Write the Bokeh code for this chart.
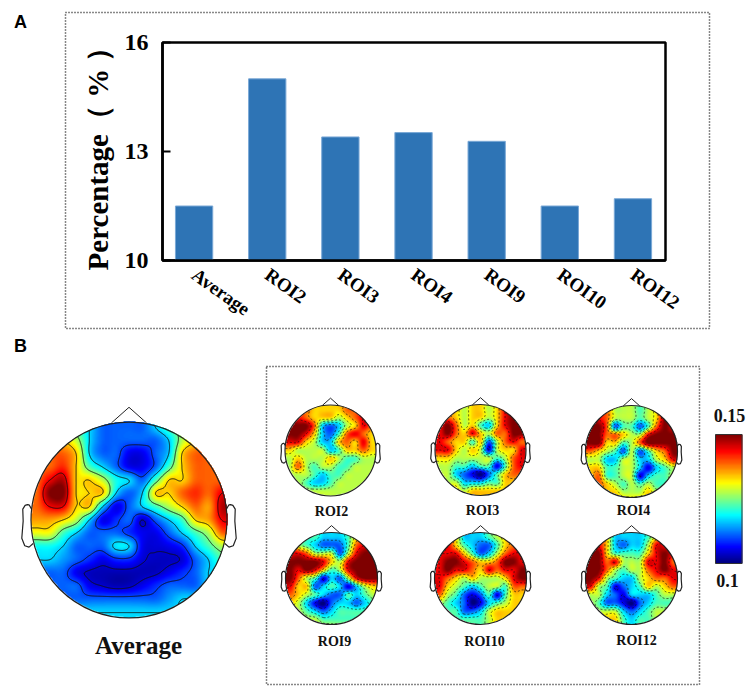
import numpy as np
from bokeh.embed import file_html
from bokeh.models import FixedTicker, LinearColorMapper, Range1d
from bokeh.plotting import figure
from bokeh.resources import INLINE
from bokeh.core.properties import value

# ---------- panel A data ----------
categories = ["Average", "ROI2", "ROI3", "ROI4", "ROI9", "ROI10", "ROI12"]
percentages = [11.5, 15.0, 13.4, 13.52, 13.28, 11.5, 11.7]
y_ticks = [10, 13, 16]

# ---------- panel B data: colour levels 0-9 (0.10 .. 0.15) read on a grid over the head ----------
avg_grid = [
    [4,4,4,4,4,3,2,2,2,2,3,4,5,6,7,7,7],
    [5,5,5,5,4,3,2,2,2,2,3,4,5,6,7,7,7],
    [6,6,6,6,5,3,2,2,2,2,2,3,5,6,7,7,7],
    [7,7,7,7,6,3,2,2,1,1,2,3,6,7,7,7,7],
    [7,7,7,7.5,6,4,3,2,1,1,2,4,6,7,7,7,7],
    [7,7,8,8.5,6,6,5,3.5,3,2,4,6,6,7,7,7,7],
    [7,7,9,9,6,6,6,3,2,3,6,6,7,7.5,7,8,8],
    [7,7,8,8,6,6,3,1,2,3,4,5,6,7,6.5,8.5,8.5],
    [6.5,6.5,6.5,6,5,3,1,1.5,2,0.7,2,3,4,6,6.5,8,8],
    [5.5,5.5,5.5,4,3,2,2,2,1.5,1,1,2,3,4,5,7,7],
    [3.5,3.5,3.5,3,2,2,2,3.2,3,1,0.8,1,1.5,3,4,5,5],
    [3,3,3,2.5,2,1.5,1,1.5,1.5,0.8,0.6,0.6,0.8,2,3,4,4],
    [2,2,2,2,1,0.6,0.5,0.5,0.5,0.5,0.6,1,1.5,2,3,3,3],
    [2,2,2,2,2,1,0.7,0.5,0.6,1,1.5,2,2,2,3,3,3],
    [2,2,2,2,2,2,2,2,2,2,2,2.5,3,3,3,3,3],
    [3,3,3,3,3,3,3,3,3,3,3,3,3,3,3,3,3],
    [3,3,3,3,3,3,3,3,3,3,3,3,3,3,3,3,3],
]
roi2_grid = [
    [6,6,8,7,6,6,6,6,6,7,8,7,6],
    [8,8,8,7,6,6,6,6,7,7,8,7,6],
    [9,9,8,7,6,6,6,5,6,7,8,7,6],
    [9,9,9,9,7,3,2,3,5,6,8,7,7],
    [9,9,9,8,6,3,2,4,7,8,7,6,6],
    [8,8,8,6,5,3,3,6,7,6,8,6,6],
    [6,6,5,5,5,5,3,4,6,6,7,6,6],
    [5,5,6,5,5,5,6,5,4,4,5,5,5],
    [5,5,7,5,4,5,5,4,4,5,5,5,5],
    [5,5,5,5,4,3,4,4,5,5,5,5,5],
    [5,5,5,4,3,3,4,5,5,5,5,5,5],
    [5,5,5,5,5,5,5,5,5,5,5,5,5],
    [5,5,5,5,5,5,5,5,5,5,5,5,5],
]
roi3_grid = [
    [7,7,7,6,5,6,6,5,6,8,9,9,8],
    [7,7,7,6,5,6,6,5,6,8,9,9,8],
    [8,8,7,6,5,6,6,5,6,8,9,9,9],
    [8,8,9,7,5,6,4,3,6,8,9,9,9],
    [8,8,9,7,6,8,6,5,7,7,9,9,9],
    [8,8,7,6,6,4,6,2,5,7,8,7,7],
    [8,8,8,6,5,6,5,1,5,6,6,8,8],
    [6,6,6,5,5,5,5,5,4,5,7,8,8],
    [5,5,5,4,4,3,4,4,1,4,7,8,8],
    [5,5,5,3,2,1,0,2,4,6,7,7,7],
    [5,5,5,5,3,3,3,4,4,6,6,6,6],
    [6,6,6,6,5,6,6,6,6,6,6,6,6],
    [6,6,6,6,6,6,6,6,6,6,6,6,6],
]
roi4_grid = [
    [8,8,8,7,5,5,5,4,5,6,9,9,9],
    [8,8,8,7,5,5,5,4,5,6,9,9,9],
    [9,9,8,7,5,5,5,4,5,6,9,9,9],
    [9,9,9,7,2,4,4,2,4,7,9,8,8],
    [9,9,9,7,7,6,5,5,8,9,9,9,9],
    [9,9,9,6,6,4,5,7,9,9,9,9,9],
    [7,7,6,5,4,2,5,2,4,6,7,9,9],
    [5,5,5,3,3,5,5,3,3,5,6,8,8],
    [6,6,6,4,4,5,5,3,1,3,4,5,5],
    [6,6,7,4,4,5,5,1,3,4,4,5,5],
    [6,6,7,6,5,4,5,4,5,4,4,5,5],
    [6,6,6,6,6,5,5,5,6,5,5,5,5],
    [6,6,6,6,6,6,6,6,6,6,6,6,6],
]
roi9_grid = [
    [5,5,5,4,4,3,3,3,4,6,7,7,7],
    [6,6,5,4,4,3,3,3,4,6,7,8,8],
    [8,8,5,4,3,2,2,2,4,7,8,8,8],
    [8,8,8,7,5,5,5,2,5,8,9,9,9],
    [9,9,9,9,9,8,6,5,8,9,9,9,9],
    [9,9,8,9,8,6,4,5,8,9,9,9,9],
    [9,9,7,5,4,1,3,2,5,8,9,9,9],
    [8,8,6,6,2,3,4,3,1,3,5,6,6],
    [7,7,6,5,4,3,2,2,4,3,4,5,5],
    [6,6,5,3,1,0,2,3,3,2,3,4,4],
    [5,5,5,4,3,2,3,4,4,4,4,4,4],
    [5,5,5,5,5,4,4,4,4,4,4,4,4],
    [5,5,5,5,5,5,5,5,5,5,5,5,5],
]
roi10_grid = [
    [8,8,8,6,3,3,3,4,5,6,7,7,7],
    [8,8,8,6,3,3,3,4,5,6,7,8,8],
    [8,8,8,6,4,3,2,2,4,6,7,8,8],
    [8,8,8,8,6,4,2,3,5,7,8,8,8],
    [8,8,9,9,8,7,6,6,7,9,9,8,8],
    [8,8,9,8,8,7,6,8,7,8,8,9,9],
    [8,8,7,6,5,6,5,5,5,6,8,9,9],
    [8,8,6,5,4,3,4,5,5,4,7,7,7],
    [7,7,5,4,2,1,2,4,1,4,6,6,6],
    [5,5,4,3,2,0,1,3,4,5,6,6,6],
    [4,4,4,4,2,2,3,5,6,6,6,6,6],
    [4,4,4,4,4,4,4,5,6,6,6,6,6],
    [4,4,4,4,4,4,4,5,6,6,6,6,6],
]
roi12_grid = [
    [8,8,8,6,3,3,3,3,4,6,8,8,8],
    [8,8,8,6,3,3,3,3,4,6,8,8,8],
    [9,9,8,6,3,2,3,3,5,8,8,8,8],
    [9,9,9,6,4,4,4,4,6,8,9,8,8],
    [9,9,9,7,8,5,5,5,8,8,9,7,7],
    [9,9,9,7,5,4,5,5,7,8,9,8,8],
    [9,9,8,5,4,3,3,5,6,7,7,8,8],
    [8,8,5,4,1,2,3,4,6,5,6,7,7],
    [5,5,5,3,2,1,3,3,3,4,5,5,5],
    [5,5,4,2,2,1,0,2,3,4,4,4,4],
    [5,5,5,5,5,3,2,3,4,5,5,5,5],
    [6,6,6,6,6,4,3,4,4,5,5,5,5],
    [6,6,6,6,6,4,3,4,4,5,5,5,5],
]

# head outline (standard EEG-plot proportions, radius = 1)
ear_x = [0.994, 1.020, 1.036, 1.060, 1.084, 1.080, 1.094, 1.064, 1.020, 0.978]
ear_y = [0.111, 0.155, 0.157, 0.149, 0.111, -0.011, -0.186, -0.263, -0.277, -0.240]
nose_x = [-0.18, 0.0, 0.18]
nose_y = [0.99, 1.15, 0.99]

SERIF = "Liberation Serif"
BLACK = "#000000"

# ---------- panel A: bar chart, laid over the page-wide figure ----------
LEFT, RIGHT, TOP, BOTTOM = 110, 60, 36, 80
A_W, A_H = LEFT + 503 + RIGHT, TOP + 218 + BOTTOM
a = figure(width=A_W, height=A_H, output_backend="svg", toolbar_location=None,
           x_range=Range1d(-0.432, 6.445), y_range=Range1d(10, 16),
           min_border_left=LEFT, min_border_right=RIGHT, min_border_top=TOP, min_border_bottom=BOTTOM,
           background_fill_color=None, border_fill_color=None)
a.styles = {"position": "absolute", "left": f"{162 - LEFT}px", "top": f"{42 - TOP}px"}
a.vbar(x=list(range(len(categories))), top=percentages, bottom=10, width=0.51,
       fill_color="#2e74b5", line_color="#7aa8d6", line_width=1)
a.grid.visible = False
a.outline_line_color = BLACK
a.outline_line_width = 2.5
a.yaxis.ticker = FixedTicker(ticks=y_ticks)
a.xaxis.ticker = FixedTicker(ticks=list(range(len(categories))))
a.xaxis.major_label_overrides = {i: c for i, c in enumerate(categories)}
a.xaxis.major_label_orientation = -0.62
a.xaxis.major_label_standoff = 6
a.xaxis.major_tick_line_color = None
a.xaxis.minor_tick_line_color = None
a.yaxis.minor_tick_line_color = None
a.yaxis.major_tick_in = 8
a.yaxis.major_tick_out = 0
a.yaxis.major_tick_line_width = 2
a.yaxis.major_tick_line_color = BLACK
a.axis.axis_line_color = BLACK
a.axis.axis_line_width = 2.5
a.axis.major_label_text_color = BLACK
a.axis.major_label_text_font = SERIF
a.axis.major_label_text_font_style = "bold"
a.xaxis.major_label_text_font_size = "19px"
a.yaxis.major_label_text_font_size = "24px"
a.yaxis.major_label_standoff = 14
a.yaxis.axis_label = "Percentage（ % ）"
a.yaxis.axis_label_text_font = SERIF
a.yaxis.axis_label_text_font_style = "bold"
a.yaxis.axis_label_text_font_size = "29px"
a.yaxis.axis_label_text_color = BLACK
a.yaxis.axis_label_standoff = 8

# ---------- page-wide figure: panel frames, letters and panel B ----------
W, H = 749, 687
b = figure(width=W, height=H, output_backend="svg", toolbar_location=None,
           x_range=Range1d(0, W), y_range=Range1d(0, H),
           x_axis_type=None, y_axis_type=None, min_border=0, outline_line_color=None,
           background_fill_color="white", border_fill_color="white")
b.grid.visible = False


def Y(page_y):
    return H - page_y


def dotted_box(left, right, top, bottom):
    b.quad(left=[left], right=[right], top=[Y(top)], bottom=[Y(bottom)], fill_color=None,
           line_color="#111111", line_width=1.5, line_dash="1 2")


dotted_box(65, 709, 12, 328)
dotted_box(266, 699, 366, 684)
b.text(x=[20, 20], y=[Y(21), Y(345)], text=["A", "B"], text_font=value("Liberation Sans"),
       text_font_style="bold", text_font_size="18px", text_color=BLACK, text_align="center", text_baseline="middle")

t = np.linspace(0, 1, 256)
palette = []
for v in t:
    r = np.clip(1.5 - abs(4 * v - 3), 0, 1)
    g = np.clip(1.5 - abs(4 * v - 2), 0, 1)
    bl = np.clip(1.5 - abs(4 * v - 1), 0, 1)
    palette.append("#%02x%02x%02x" % (int(r * 255), int(g * 255), int(bl * 255)))
mapper = LinearColorMapper(palette=palette, low=0.10, high=0.15, nan_color=(0, 0, 0, 0))


def cubic(arr, pos, axis):
    i = np.floor(pos).astype(int)
    f = pos - i
    n = arr.shape[axis]
    pts = [np.take(arr, np.clip(i + k, 0, n - 1), axis=axis) for k in (-1, 0, 1, 2)]
    shape = [1, 1]
    shape[axis] = -1
    f = f.reshape(shape)
    return 0.5 * (2 * pts[1] + (pts[2] - pts[0]) * f
                  + (2 * pts[0] - 5 * pts[1] + 4 * pts[2] - pts[3]) * f ** 2
                  + (3 * pts[1] - pts[0] - 3 * pts[2] + pts[3]) * f ** 3)


def topomap(grid, cx, cy, r, dash, lw, levels):
    extent = 1.08
    n = int(2 * extent * r * 2)
    g = np.array(grid, dtype=float)[::-1]
    pos = np.linspace(0, g.shape[0] - 1, n)
    z = cubic(cubic(g, pos, 0), pos, 1)
    z = np.clip(z, 0, 9)
    nx = np.linspace(-extent, extent, n)
    xx, yy = np.meshgrid(nx, nx)
    vals = 0.10 + z * 0.05 / 9
    vals[xx ** 2 + yy ** 2 > 1] = np.nan
    cyy = Y(cy)
    b.image(image=[vals], x=cx - extent * r, y=cyy - extent * r,
            dw=2 * extent * r, dh=2 * extent * r, color_mapper=mapper)
    b.contour(cx + nx * r, cyy + nx * r, vals, levels=[0.10 + l * 0.05 / 9 for l in levels],
              line_color="#111111", line_width=lw, line_dash=dash)
    b.line([cx + v * r for v in nose_x], [cyy + v * r for v in nose_y], line_color="#222222", line_width=1)
    for s in (-1, 1):
        b.line([cx + s * v * r for v in ear_x], [cyy + v * r for v in ear_y], line_color="#222222", line_width=1.2)
    b.circle(x=[cx], y=[cyy], radius=r, fill_color=None, line_color="#222222", line_width=1.2)


big_levels = [0.7, 1.7, 3.0, 4.5, 6.0, 8.0]
small_levels = [1, 2.5, 3.5, 4.5, 5.5, 6.5, 8]
topomap(avg_grid, 128.5, 519.5, 98, "solid", 0.9, big_levels)
topomap(roi2_grid, 330, 450, 45.5, "2 2", 0.7, small_levels)
topomap(roi3_grid, 480, 449.5, 45.5, "2 2", 0.7, small_levels)
topomap(roi4_grid, 631, 451, 46, "2 2", 0.7, small_levels)
topomap(roi9_grid, 331, 578, 46, "2 2", 0.7, small_levels)
topomap(roi10_grid, 480, 578, 46, "2 2", 0.7, small_levels)
topomap(roi12_grid, 631, 578, 46, "2 2", 0.7, small_levels)

map_names = ["ROI2", "ROI3", "ROI4", "ROI9", "ROI10", "ROI12"]
b.text(x=[331, 482, 633, 334, 484, 636], y=[Y(v) for v in (511, 510, 510, 641, 641, 640)], text=map_names,
       text_font=value(SERIF), text_font_style="bold", text_font_size="14px", text_color="#111111",
       text_align="center", text_baseline="middle")
b.text(x=[138], y=[Y(645)], text=["Average"], text_font=value(SERIF), text_font_style="bold",
       text_font_size="25px", text_color="#111111", text_align="center", text_baseline="middle")
b.text(x=[729, 727], y=[Y(415), Y(580)], text=["0.15", "0.1"], text_font=value(SERIF), text_font_style="bold",
       text_font_size="18px", text_color="#111111", text_align="center", text_baseline="middle")

# colour bar
cb_values = np.linspace(0.10, 0.15, 129).reshape(-1, 1)
b.image(image=[cb_values], x=715, y=Y(563), dw=27, dh=129, color_mapper=mapper)
b.quad(left=[715], right=[741.5], top=[Y(434)], bottom=[Y(563)], fill_color=None, line_color="#333333", line_width=1)

open("out.html", "w").write(file_html([b, a], INLINE))
